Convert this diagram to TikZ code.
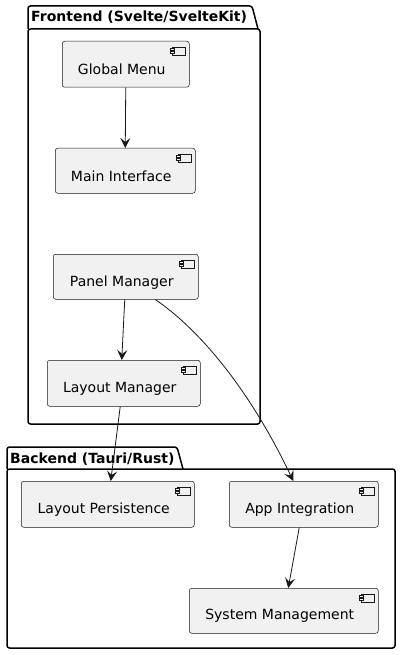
\documentclass[tikz,border=0pt]{standalone}
\usepackage{fontspec}
\setmainfont{DejaVu Sans}
\usetikzlibrary{arrows.meta,calc}
\definecolor{boxfill}{HTML}{F1F1F1}
\definecolor{ink}{HTML}{181818}
\tikzset{
  comp/.style={draw=ink, fill=boxfill, line width=0.5pt, rounded corners=2.5pt, inner sep=0pt, font=\fontsize{14}{16}\selectfont},
  pkg/.style={draw=black, line width=1.5pt, rounded corners=2.5pt},
  pkgtitle/.style={anchor=base west, inner sep=0pt, font=\bfseries\fontsize{14}{16}\selectfont},
  dep/.style={draw=ink, line width=0.8pt, -{Stealth[length=10pt,width=10pt,inset=4pt]}},
  icon/.style={draw=ink, line width=0.5pt, fill=boxfill}
}
\newcommand{\mycomp}[6]{% name, x1, y1, x2, y2, text
  \node[comp, minimum width={#4-#2}, minimum height={#5-#3}, anchor=north west,
        label={[font=\fontsize{14}{16}\selectfont, yshift=-5.5pt, xshift=-4pt]center:#6}] (#1) at (#2,#3) {};
  \draw[icon] ($(#1.north east)+(-17,6)$) rectangle ($(#1.north east)+(-4,14)$);
  \draw[icon] ($(#1.north east)+(-19,7.5)$) rectangle ($(#1.north east)+(-15,9.5)$);
  \draw[icon] ($(#1.north east)+(-19,10.5)$) rectangle ($(#1.north east)+(-15,12.5)$);
}
\begin{document}
\begin{tikzpicture}[x=1pt,y=-1pt]
\useasboundingbox (0,0) rectangle (400,655);
% Frontend package
\draw[pkg] (28,29) -- (28,6) -- (252,6) -- (258,29);
\draw[pkg] (28,29) -- (260,29) -- (260,424) -- (28,424) -- cycle;
\node[pkgtitle] (ftitle) at (31,22) {Frontend (Svelte/SvelteKit)};
% Backend package
\draw[pkg] (7,469) -- (7,447) -- (177,447) -- (183,469);
\draw[pkg] (7,469) -- (395,469) -- (395,648) -- (7,648) -- cycle;
\node[pkgtitle] (btitle) at (10,463) {Backend (Tauri/Rust)};
% components
\mycomp{gm}{62}{41}{189}{87}{Global Menu}
\mycomp{mi}{55}{148}{195}{193}{Main Interface}
\mycomp{pm}{53}{254}{198}{299}{Panel Manager}
\mycomp{lm}{47}{360}{200}{406}{Layout Manager}
\mycomp{lp}{21}{481}{194}{527}{Layout Persistence}
\mycomp{ai}{229}{481}{378}{527}{App Integration}
\mycomp{sm}{189}{588}{378}{633}{System Management}
% connectors
\draw[dep] ([xshift=0pt]gm.south) -- ([xshift=0pt]mi.north);
\draw[dep] ([xshift=-1pt]pm.south) -- ([xshift=-2pt]lm.north);
\draw[dep] ([xshift=-3.5pt]lm.south) -- ([xshift=3pt]lp.north);
\draw[dep] ([xshift=29.5pt]pm.south) .. controls (200,330) and (250,390) .. ([xshift=-10.5pt]ai.north);
\draw[dep] ([xshift=-4.5pt]ai.south) -- ([xshift=4.5pt]sm.north);
\end{tikzpicture}
\end{document}
